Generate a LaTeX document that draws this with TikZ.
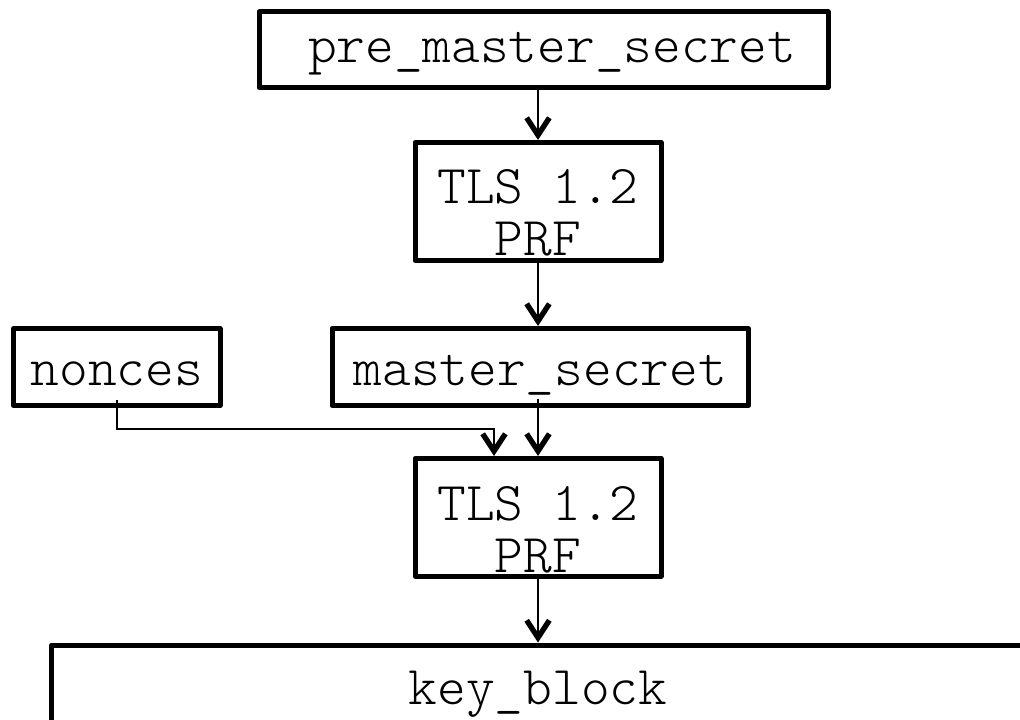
\documentclass[tikz,border=0pt]{standalone}
\usepackage{fontspec}
\setmonofont{lmmonolt10-regular.otf}
\usetikzlibrary{arrows.meta,calc,fit}
\begin{document}
\begin{tikzpicture}[x=0.75pt,y=-0.75pt,
  box/.style={draw,line width=3.75pt,line join=round,inner sep=0pt},
  lbl/.style={font=\ttfamily\fontsize{41}{49}\selectfont,anchor=base,inner sep=0pt},
  flow/.style={line width=1.5pt,-{Straight Barb[length=13pt,width=17pt,line width=4pt]}}]
\useasboundingbox (0,0) rectangle (1020,720);
\clip (0,0) rectangle (1020,720);

% boxes
\node[box,fit={(259,12)(828,87.5)}] (pm) {};
\node[box,fit={(415,142.5)(661,260.5)}] (prf1) {};
\node[box,fit={(13.5,328.5)(220,405.5)}] (nonces) {};
\node[box,fit={(332,328.5)(748.5,405.5)}] (ms) {};
\node[box,fit={(415,458.5)(661,576)}] (prf2) {};
\node[box,fit={(51.5,645)(1028.5,780)}] (kb) {};

% texts
\node[lbl] (pmt) at (552,63) {pre\_master\_secret};
\node[lbl] (p1a) at (prf1.center |- 0,204) {TLS 1.2};
\node[lbl] (p1b) at (prf1.center |- 0,256) {PRF};
\node[lbl] (nt) at (nonces.center |- 0,385) {nonces};
\node[lbl] (mst) at (ms.center |- 0,385) {master\_secret};
\node[lbl] (p2a) at (prf2.center |- 0,520) {TLS 1.2};
\node[lbl] (p2b) at (prf2.center |- 0,572) {PRF};
\node[lbl] (kbt) at (prf2.center |- 0,704) {key\_block};

% connectors
\coordinate (nin) at ($(prf2.north)+(-44,0)$);
\draw[flow] (pm.south -| prf1.north) -- (prf1.north);
\draw[flow] (prf1.south) -- (prf1.south |- ms.north);
\draw[flow] ($(nonces.south)+(0,-8)$) |- ($(nin)+(0,-27)$) -- (nin);
\draw[flow] ($(ms.south -| prf2.north)+(0,-9.5)$) -- (prf2.north);
\draw[flow] (prf2.south) -- (prf2.south |- kb.north);
\end{tikzpicture}
\end{document}
